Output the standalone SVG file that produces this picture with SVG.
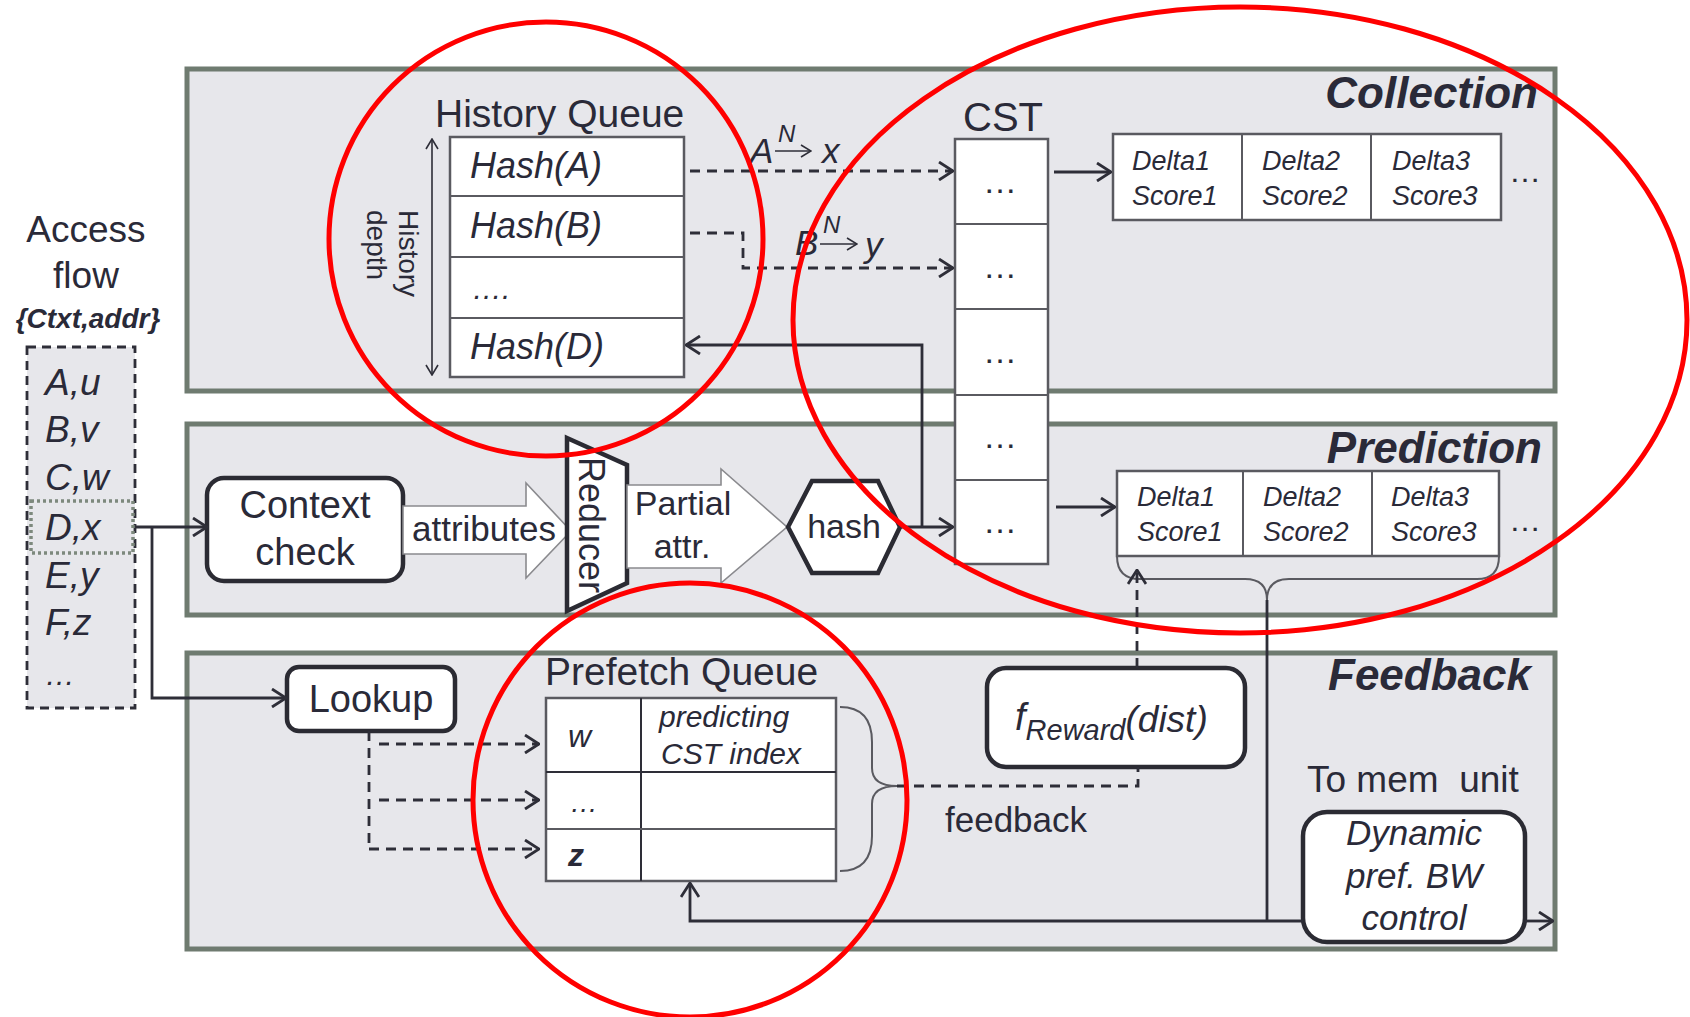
<svg xmlns="http://www.w3.org/2000/svg" width="1690" height="1017" viewBox="0 0 1690 1017">
<defs>
<style>
text{font-family:"Liberation Sans",Arial,sans-serif;fill:#2a2a38}
.it{font-style:italic}
.bi{font-style:italic;font-weight:bold}
.panel{fill:#e7e7eb;stroke:#6f7b70;stroke-width:5}
.box{fill:#fff;stroke:#2b2b33;stroke-width:4.5}
.tbl{fill:#fff;stroke:#5a5a60;stroke-width:2.5}
.ln{fill:none;stroke:#5a5a60;stroke-width:2}
.con{fill:none;stroke:#2e2e38;stroke-width:2.8}
.dash{fill:none;stroke:#2e2e38;stroke-width:2.8;stroke-dasharray:10,7}
.blk{fill:#fff;stroke:#8a8a8e;stroke-width:1.6}
.red{fill:none;stroke:#ff0000;stroke-width:5}
</style>
<marker id="ah" viewBox="0 0 16 20" refX="15" refY="10" markerWidth="16" markerHeight="20" markerUnits="userSpaceOnUse" orient="auto">
<path d="M1,1 L15,10 L1,19" fill="none" stroke="#2e2e38" stroke-width="2.8"/>
</marker>
<marker id="ahs" viewBox="0 0 12 14" refX="11" refY="7" markerWidth="12" markerHeight="14" markerUnits="userSpaceOnUse" orient="auto-start-reverse">
<path d="M1,1 L11,7 L1,13" fill="none" stroke="#2e2e38" stroke-width="1.6"/>
</marker>
</defs>
<rect width="1690" height="1017" fill="#fff"/>

<g id="panels">
<rect class="panel" x="187" y="69" width="1368" height="322"/>
<rect class="panel" x="187" y="424" width="1368" height="191"/>
<rect class="panel" x="187" y="653" width="1368" height="296"/>
<text class="bi" x="1538" y="108" font-size="44" text-anchor="end">Collection</text>
<text class="bi" x="1542" y="463" font-size="44" text-anchor="end">Prediction</text>
<text class="bi" x="1531" y="690" font-size="44" text-anchor="end">Feedback</text>
</g>

<g id="access-flow">
<text x="86" y="242" font-size="37" text-anchor="middle">Access</text>
<text x="86" y="288" font-size="37" text-anchor="middle">flow</text>
<text class="bi" x="88" y="328" font-size="28" text-anchor="middle">{Ctxt,addr}</text>
<rect x="27" y="347" width="108" height="361" fill="#e7e7eb" stroke="#2e2e38" stroke-width="2.8" stroke-dasharray="9,6"/>
<rect x="31" y="501" width="102" height="52" fill="none" stroke="#7d897d" stroke-width="3.5" stroke-dasharray="3,3"/>
<text class="it" x="45" y="395" font-size="37">A,u</text>
<text class="it" x="45" y="442" font-size="37">B,v</text>
<text class="it" x="45" y="490" font-size="37">C,w</text>
<text class="it" x="45" y="540" font-size="37">D,x</text>
<text class="it" x="45" y="588" font-size="37">E,y</text>
<text class="it" x="45" y="635" font-size="37">F,z</text>
<text class="it" x="45" y="685" font-size="30">…</text>
</g>

<g id="history-queue">
<text x="435" y="127" font-size="39">History Queue</text>
<rect class="tbl" x="450" y="137" width="234" height="240"/>
<line class="ln" x1="450" y1="196" x2="684" y2="196"/>
<line class="ln" x1="450" y1="257" x2="684" y2="257"/>
<line class="ln" x1="450" y1="318" x2="684" y2="318"/>
<text class="it" x="470" y="178" font-size="36">Hash(A)</text>
<text class="it" x="470" y="238" font-size="36">Hash(B)</text>
<text class="it" x="472" y="299" font-size="30">….</text>
<text class="it" x="470" y="359" font-size="36">Hash(D)</text>
<line x1="432" y1="139" x2="432" y2="375" stroke="#2e2e38" stroke-width="1.6" marker-start="url(#ahs)" marker-end="url(#ahs)"/>
<text x="0" y="0" font-size="28" transform="translate(399,210) rotate(90)">History</text>
<text x="0" y="0" font-size="28" transform="translate(367,210) rotate(90)">depth</text>
</g>

<g id="cst">
<text x="1003" y="131" font-size="40" text-anchor="middle">CST</text>
<rect class="tbl" x="955" y="139" width="93" height="425"/>
<line class="ln" x1="955" y1="224" x2="1048" y2="224"/>
<line class="ln" x1="955" y1="309" x2="1048" y2="309"/>
<line class="ln" x1="955" y1="395" x2="1048" y2="395"/>
<line class="ln" x1="955" y1="480" x2="1048" y2="480"/>
<text x="1000" y="193" font-size="34" text-anchor="middle">…</text>
<text x="1000" y="278" font-size="34" text-anchor="middle">…</text>
<text x="1000" y="363" font-size="34" text-anchor="middle">…</text>
<text x="1000" y="448" font-size="34" text-anchor="middle">…</text>
<text x="1000" y="533" font-size="34" text-anchor="middle">…</text>
</g>

<g id="delta-collection">
<rect class="tbl" x="1113" y="134" width="388" height="86"/>
<line class="ln" x1="1242" y1="134" x2="1242" y2="220"/>
<line class="ln" x1="1371" y1="134" x2="1371" y2="220"/>
<text class="it" x="1132" y="170" font-size="27">Delta1</text>
<text class="it" x="1132" y="205" font-size="27">Score1</text>
<text class="it" x="1262" y="170" font-size="27">Delta2</text>
<text class="it" x="1262" y="205" font-size="27">Score2</text>
<text class="it" x="1392" y="170" font-size="27">Delta3</text>
<text class="it" x="1392" y="205" font-size="27">Score3</text>
<text x="1525" y="182" font-size="32" text-anchor="middle">…</text>
</g>

<g id="delta-prediction">
<rect class="tbl" x="1117" y="471" width="382" height="85"/>
<line class="ln" x1="1243" y1="471" x2="1243" y2="556"/>
<line class="ln" x1="1372" y1="471" x2="1372" y2="556"/>
<text class="it" x="1137" y="506" font-size="27">Delta1</text>
<text class="it" x="1137" y="541" font-size="27">Score1</text>
<text class="it" x="1263" y="506" font-size="27">Delta2</text>
<text class="it" x="1263" y="541" font-size="27">Score2</text>
<text class="it" x="1391" y="506" font-size="27">Delta3</text>
<text class="it" x="1391" y="541" font-size="27">Score3</text>
<text x="1525" y="531" font-size="32" text-anchor="middle">…</text>
</g>

<g id="context-check">
<rect class="box" x="207" y="478" width="196" height="103" rx="17"/>
<text x="305" y="518" font-size="38" text-anchor="middle">Context</text>
<text x="305" y="565" font-size="38" text-anchor="middle">check</text>
</g>

<g id="attributes-arrow">
<polygon class="blk" points="403,506 526,506 526,483 571,531 526,578 526,554 403,554"/>
<text x="412" y="541" font-size="35">attributes</text>
</g>

<g id="reducer">
<polygon class="box" points="567,438 627,465 627,583 567,611"/>
<text x="0" y="0" font-size="36" text-anchor="middle" transform="translate(579,525) rotate(90)">Reducer</text>
</g>

<g id="partial-arrow">
<polygon class="blk" points="627,485 721,485 721,469 787,527 721,583 721,568 627,568"/>
<text x="683" y="515" font-size="34" text-anchor="middle">Partial</text>
<text x="682" y="558" font-size="34" text-anchor="middle">attr.</text>
</g>

<g id="hash">
<polygon class="box" points="788,527 812,481 878,481 900,527 878,573 812,573"/>
<text x="844" y="538" font-size="34" text-anchor="middle">hash</text>
</g>

<g id="lookup">
<rect class="box" x="287" y="667" width="168" height="64" rx="12"/>
<text x="371" y="712" font-size="38" text-anchor="middle">Lookup</text>
</g>

<g id="prefetch-queue">
<text x="545" y="685" font-size="39">Prefetch Queue</text>
<rect class="tbl" x="546" y="698" width="290" height="183"/>
<line x1="641" y1="698" x2="641" y2="881" stroke="#2e2e38" stroke-width="2"/>
<line x1="546" y1="772" x2="836" y2="772" stroke="#2e2e38" stroke-width="2"/>
<line class="ln" x1="546" y1="829" x2="836" y2="829"/>
<text class="it" x="568" y="747" font-size="32">w</text>
<text class="it" x="570" y="812" font-size="28">…</text>
<text class="it" x="568" y="866" font-size="32" font-weight="bold">z</text>
<text class="it" x="659" y="727" font-size="30">predicting</text>
<text class="it" x="661" y="764" font-size="30">CST index</text>
<path class="ln" d="M840,707 Q872,707 872,742 L872,768 Q872,786 897,786 Q872,786 872,804 L872,836 Q872,871 840,871"/>
</g>

<g id="freward">
<rect class="box" x="987" y="668" width="258" height="99" rx="19"/>
<text class="it" x="1015" y="730" font-size="38">f<tspan font-size="29" dy="10">Reward</tspan><tspan font-size="37" dy="-8">(dist)</tspan></text>
</g>

<g id="feedback-label">
<text x="945" y="832" font-size="35">feedback</text>
<text x="1307" y="792" font-size="37" style="white-space:pre">To mem  unit</text>
</g>

<g id="dynamic-bw">
<rect class="box" x="1303" y="812" width="222" height="130" rx="24"/>
<text class="it" x="1414" y="845" font-size="35" text-anchor="middle">Dynamic</text>
<text class="it" x="1414" y="888" font-size="35" text-anchor="middle">pref. BW</text>
<text class="it" x="1414" y="930" font-size="35" text-anchor="middle">control</text>
</g>

<g id="connectors">
<line class="con" x1="135" y1="527" x2="207" y2="527" marker-end="url(#ah)"/>
<polyline class="con" points="152,527 152,698 286,698" marker-end="url(#ah)"/>
<line class="dash" x1="690" y1="171" x2="953" y2="171" marker-end="url(#ah)"/>
<polyline class="dash" points="690,233 743,233 743,268 953,268" marker-end="url(#ah)"/>
<line class="con" x1="900" y1="527" x2="953" y2="527" marker-end="url(#ah)"/>
<polyline class="con" points="922,527 922,345 686,345" marker-end="url(#ah)"/>
<line class="con" x1="1054" y1="172" x2="1111" y2="172" marker-end="url(#ah)"/>
<line class="con" x1="1056" y1="507" x2="1115" y2="507" marker-end="url(#ah)"/>
<path class="ln" d="M1117,556 Q1117,579 1140,579 L1245,579 Q1267,579 1267,600 M1499,556 Q1499,579 1477,579 L1289,579 Q1267,579 1267,600"/>
<line class="con" x1="1267" y1="600" x2="1267" y2="921"/>
<polyline class="con" points="1267,921 690,921 690,883" marker-end="url(#ah)"/>
<line class="con" x1="1267" y1="921" x2="1303" y2="921"/>
<line class="con" x1="1525" y1="921" x2="1553" y2="921" marker-end="url(#ah)"/>
<line class="dash" x1="1137" y1="668" x2="1137" y2="570" marker-end="url(#ah)"/>
<polyline class="dash" points="897,786 1138,786 1138,767"/>
<line class="dash" x1="369" y1="731" x2="369" y2="849"/>
<line class="dash" x1="379" y1="744" x2="539" y2="744" marker-end="url(#ah)"/>
<line class="dash" x1="379" y1="800" x2="539" y2="800" marker-end="url(#ah)"/>
<line class="dash" x1="369" y1="849" x2="539" y2="849" marker-end="url(#ah)"/>
</g>

<g id="formulas">
<text class="it" x="750" y="163" font-size="35">A</text>
<text class="it" x="778" y="142" font-size="24">N</text>
<line x1="775" y1="151" x2="811" y2="151" stroke="#2e2e38" stroke-width="1.6" marker-end="url(#ahs)"/>
<text class="it" x="822" y="163" font-size="35">x</text>
<text class="it" x="795" y="255" font-size="35">B</text>
<text class="it" x="823" y="233" font-size="24">N</text>
<line x1="820" y1="244" x2="857" y2="244" stroke="#2e2e38" stroke-width="1.6" marker-end="url(#ahs)"/>
<text class="it" x="865" y="257" font-size="35">y</text>
</g>

<g id="highlights">
<ellipse class="red" cx="546" cy="239" rx="217" ry="217"/>
<ellipse class="red" cx="1240" cy="320" rx="447" ry="313"/>
<ellipse class="red" cx="690" cy="800" rx="217" ry="217"/>
</g>
</svg>
